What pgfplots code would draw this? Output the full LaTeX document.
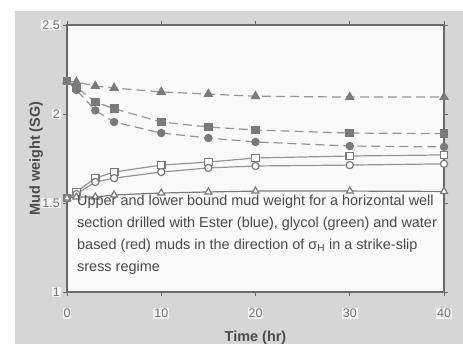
\documentclass[border=0pt]{standalone}
\usepackage{pgfplots}
\pgfplotsset{compat=1.18}
\usepackage{fontspec}
\setmainfont{Liberation Sans}
\definecolor{bg}{HTML}{D6D6D6}
\definecolor{plotbg}{HTML}{FAFAFA}
\definecolor{mk}{HTML}{7A7A7A}
\definecolor{ln}{HTML}{959595}
\definecolor{axc}{HTML}{6A6A6A}
\definecolor{txt}{HTML}{4A4A4A}
\begin{document}
\begin{tikzpicture}[x=1bp,y=1bp]
\fill[bg] (-52,-52) rectangle (396,281);
\path[use as bounding box] (-67,-52) rectangle (396,292);
\begin{axis}[
  at={(0,0)}, anchor=south west,
  scale only axis, width=377bp, height=267bp,
  xmin=0, xmax=40, ymin=1, ymax=2.5,
  xtick={0,10,20,30,40}, ytick={1,1.5,2,2.5},
  yticklabels={1,1.5,2,2.5},
  tick align=outside, major tick length=4bp,
  tick style={axc, line width=0.8bp},
  axis line style={axc, line width=1.6bp},
  axis background/.style={fill=plotbg},
  /pgf/number format/assume math mode=true,
  tick label style={font=\fontsize{12.5}{13}\selectfont, text=gray!90!black, fill=white!70!bg, inner sep=1pt},
  xticklabel style={yshift=-12bp},
  yticklabel style={xshift=-2bp},
  xlabel={\textbf{Time (hr)}},
  ylabel={\textbf{Mud weight (SG)}},
  label style={font=\fontsize{14.5}{16}\selectfont, text=txt},
  xlabel style={yshift=-8bp},
  ylabel style={yshift=-5bp},
  clip=false,
]
% upper bounds (filled, dashed)
\addplot[ln, line width=1.2bp, dash pattern=on 9bp off 5bp, mark=triangle*, mark size=4.5bp, mark options={solid, fill=mk, draw=mk}]
 coordinates {(0,2.185)(1,2.18)(3,2.157)(5,2.146)(10,2.124)(15,2.112)(20,2.10)(30,2.095)(40,2.095)};
\addplot[ln, line width=1.2bp, dash pattern=on 9bp off 5bp, mark=square*, mark size=3.8bp, mark options={solid, fill=mk, draw=mk}]
 coordinates {(0,2.185)(1,2.15)(3,2.067)(5,2.03)(10,1.955)(15,1.927)(20,1.91)(30,1.893)(40,1.89)};
\addplot[ln, line width=1.2bp, dash pattern=on 9bp off 5bp, mark=*, mark size=3.6bp, mark options={solid, fill=mk, draw=mk}]
 coordinates {(0,2.185)(1,2.135)(3,2.02)(5,1.955)(10,1.893)(15,1.865)(20,1.843)(30,1.82)(40,1.815)};
% lower bounds (open, solid)
\addplot[ln, line width=1.2bp, mark=square*, mark size=3.8bp, mark options={fill=white, draw=mk}]
 coordinates {(0,1.528)(1,1.562)(3,1.64)(5,1.674)(10,1.713)(15,1.73)(20,1.753)(30,1.764)(40,1.77)};
\addplot[ln, line width=1.2bp, mark=*, mark size=3.6bp, mark options={fill=white, draw=mk}]
 coordinates {(0,1.528)(1,1.55)(3,1.618)(5,1.64)(10,1.674)(15,1.697)(20,1.708)(30,1.713)(40,1.72)};
\addplot[mk, line width=1.2bp, mark=triangle*, mark size=4bp, mark options={fill=white, draw=mk}]
 coordinates {(0,1.528)(1,1.534)(3,1.534)(5,1.545)(10,1.556)(15,1.562)(20,1.567)(30,1.567)(40,1.565)};
\end{axis}
\node[anchor=north west, align=left, text=txt, inner sep=0pt,
      font=\fontsize{14.5}{22}\selectfont] at (10,97)
 {Upper and lower bound mud weight for a horizontal well\\
  section drilled with Ester (blue), glycol (green) and water\\
  based (red) muds in the direction of σ\textsubscript{H} in a strike-slip\\
  sress regime};
\end{tikzpicture}
\end{document}
